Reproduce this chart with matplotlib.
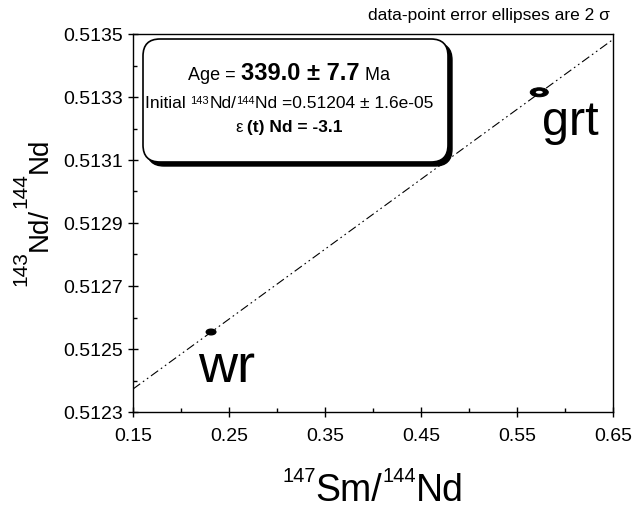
import numpy as np
import matplotlib
matplotlib.use('Agg')
import matplotlib.pyplot as plt
from matplotlib.patches import Ellipse, FancyBboxPatch
from matplotlib.transforms import IdentityTransform
from matplotlib.ticker import MultipleLocator, FormatStrFormatter

plt.rcParams['font.family'] = ['Liberation Sans', 'DejaVu Sans']

# sample data (147Sm/144Nd, 143Nd/144Nd) with 2 sigma half widths
samples = ['wr', 'grt']
sm_nd = [0.2313, 0.5732]
nd_nd = [0.512554, 0.513315]
err_x = [0.0050, 0.0094]
err_y = [0.0000090, 0.0000143]

# isochron result
age_ma = 339.0
age_err = 7.7
initial = 0.51204
initial_err = 1.6e-05
eps_nd = -3.1
lam = 6.54e-12

x_ticks = [0.15, 0.25, 0.35, 0.45, 0.55, 0.65]
y_ticks = [0.5123, 0.5125, 0.5127, 0.5129, 0.5131, 0.5133, 0.5135]

W, H = 634, 510
fig = plt.figure(figsize=(W / 100, H / 100), dpi=100)
ax = fig.add_axes([133 / W, 97 / H, 480 / W, 378 / H])

# isochron line across the whole x range
slope = np.expm1(lam * age_ma * 1e6)
xl = np.array([x_ticks[0], x_ticks[-1]])
ax.plot(xl, initial + slope * xl, color='black', lw=0.8,
        dashes=(8, 3, 1.5, 3, 1.5, 3), zorder=2)

# error ellipses: wr solid, grt black ring with a small hole
ax.add_patch(Ellipse((sm_nd[0], nd_nd[0]), 2 * err_x[0], 2 * err_y[0],
                     fc='black', ec='black', lw=1, zorder=3))
ax.add_patch(Ellipse((sm_nd[1], nd_nd[1]), 2 * err_x[1], 2 * err_y[1],
                     fc='black', ec='black', lw=0.7, zorder=3))
ax.add_patch(Ellipse((sm_nd[1], nd_nd[1]), 0.78 * err_x[1], 0.66 * err_y[1],
                     fc='white', ec='none', zorder=4))

# sample names
offsets = [(-13 * 0.72, -49 * 0.72), (3 * 0.72, -42 * 0.72)]
sizes = [39, 35]
for name, x, y, off, fs in zip(samples, sm_nd, nd_nd, offsets, sizes):
    ax.annotate(name, (x, y), xytext=off, textcoords='offset points',
                ha='left', va='baseline', fontsize=fs)

ax.set_xlim(x_ticks[0], x_ticks[-1])
ax.set_ylim(y_ticks[0], y_ticks[-1])
ax.set_xticks(x_ticks)
ax.set_yticks(y_ticks)
ax.xaxis.set_minor_locator(MultipleLocator(0.05))
ax.yaxis.set_minor_locator(MultipleLocator(0.0001))
ax.xaxis.set_major_formatter(FormatStrFormatter('%.2f'))
ax.yaxis.set_major_formatter(FormatStrFormatter('%.4f'))
ax.tick_params(which='major', direction='inout', length=6.5, width=1,
               labelsize=14)
ax.tick_params(axis='x', which='major', pad=7.5)
ax.tick_params(axis='y', which='major', pad=4)
ax.tick_params(which='minor', direction='in', length=3, width=1)
for sp in ax.spines.values():
    sp.set_linewidth(1)

# rounded info box with shadow (pixel coords)
bx, by, bw, bh = 143, H - 163, 305, 123
fig.patches.append(FancyBboxPatch((bx + 4, by - 4), bw, bh,
                                  boxstyle='round,pad=0,rounding_size=17',
                                  transform=IdentityTransform(), fc='black',
                                  ec='black', lw=1, zorder=1, figure=fig))
fig.patches.append(FancyBboxPatch((bx, by), bw, bh,
                                  boxstyle='round,pad=0,rounding_size=17',
                                  transform=IdentityTransform(), fc='white',
                                  ec='black', lw=1.2, zorder=2, figure=fig))


def draw_pieces(pieces, x, y, vertical=False):
    # lay out text pieces one after the other, centred on x (or y)
    r = fig.canvas.get_renderer()
    texts = []
    for s, size, weight, rise in pieces:
        t = fig.text(0, 0, s, fontsize=size, fontweight=weight, ha='left',
                     va='baseline', rotation=90 if vertical else 0,
                     rotation_mode='anchor', transform=IdentityTransform(),
                     zorder=3)
        texts.append((t, rise))
    widths = []
    for t, rise in texts:
        bb = t.get_window_extent(r)
        widths.append(bb.height if vertical else bb.width)
    pos = -sum(widths) / 2
    for (t, rise), w in zip(texts, widths):
        if vertical:
            t.set_position((x - rise, y + pos))
        else:
            t.set_position((x + pos, y + rise))
        pos += w


draw_pieces([('Age = ', 13, 'normal', 0),
             ('%.1f \u00b1 %.1f' % (age_ma, age_err), 17, 'bold', 0),
             (' Ma', 13, 'normal', 0)], 289, H - 80)
draw_pieces([('Initial ', 12.5, 'normal', 0), ('143', 8, 'normal', 4),
             ('Nd/', 12.5, 'normal', 0), ('144', 8, 'normal', 4),
             ('Nd =%.5f \u00b1 %.1e' % (initial, initial_err), 12.5, 'normal', 0)],
            289, H - 108)
draw_pieces([('\u03b5', 12, 'normal', 0),
             (' (t) Nd = %.1f' % eps_nd, 12.5, 'bold', 0)], 289, H - 132)

# axis labels
draw_pieces([('147', 14.5, 'normal', 19), ('Sm/', 27, 'normal', 0),
             ('144', 14.5, 'normal', 19), ('Nd', 27, 'normal', 0)], 373, 9)
draw_pieces([('143', 15, 'normal', 21), ('Nd/', 20, 'normal', 0),
             ('144', 15, 'normal', 21), ('Nd', 20, 'normal', 0)], 47, H - 212,
            vertical=True)

fig.text(610, H - 20, 'data-point error ellipses are 2 \u03c3', fontsize=12.5,
         ha='right', va='baseline', transform=IdentityTransform())

fig.savefig('out.png', dpi=100)
